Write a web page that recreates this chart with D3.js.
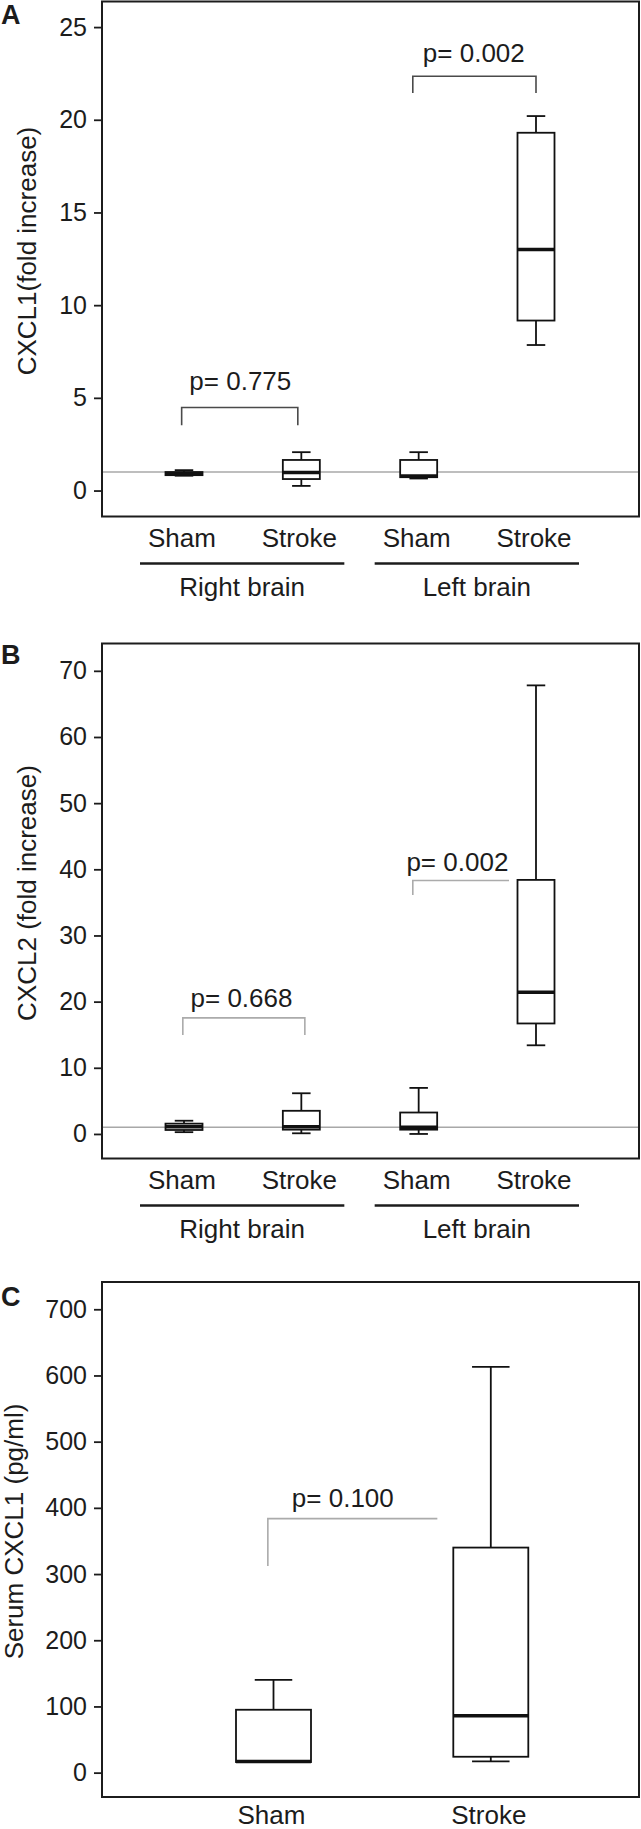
<!DOCTYPE html>
<html>
<head>
<meta charset="utf-8">
<script src="https://d3js.org/d3.v7.min.js"></script>
<style>
  body { margin: 0; background: #fff; }
  svg text { font-family: "Liberation Sans", Arial, Helvetica, sans-serif; fill: #1c1c1c; }
</style>
</head>
<body>
<svg id="fig" width="641" height="1829"></svg>
<script>
// categories
var brainGroups = ["Sham", "Stroke", "Sham", "Stroke"];
var brainSides = ["Right brain", "Left brain"];
var serumGroups = ["Sham", "Stroke"];

// box summaries: [min, q1, median, q3, max]
var cxcl1Brain = [
  [0.80, 0.83, 0.90, 1.00, 1.10],
  [0.25, 0.62, 0.97, 1.65, 2.07],
  [0.65, 0.72, 0.78, 1.65, 2.07],
  [7.85, 9.17, 13.0, 19.3, 20.2]
];
var cxcl2Brain = [
  [0.27, 0.60, 1.08, 1.56, 2.0],
  [0.10, 0.65, 1.08, 3.50, 6.15],
  [0.00, 0.65, 1.03, 3.24, 6.96],
  [13.4, 16.7, 21.4, 38.4, 67.8]
];
var serumCxcl1 = [
  [16, 16, 17, 95, 140],
  [17, 24, 86, 340, 613]
];

// tick labels
var ticksA = [0, 5, 10, 15, 20, 25];
var ticksB = [0, 10, 20, 30, 40, 50, 60, 70];
var ticksC = [0, 100, 200, 300, 400, 500, 600, 700];

// p-value brackets (x in category index units, y in data units)
var pA = [
  {x0: -0.02, x1: 0.97, bar: 4.48, leg: 3.52, right: true, tx: 0.48, ty: 5.44, label: "p= 0.775"},
  {x0: 1.95, x1: 3.0, bar: 22.35, leg: 21.44, right: true, tx: 2.47, ty: 23.14, label: "p= 0.002"}
];
var pB = [
  {x0: -0.01, x1: 1.03, bar: 17.54, leg: 14.95, right: true, tx: 0.49, ty: 19.2, label: "p= 0.668"},
  {x0: 1.95, x1: 2.77, bar: 38.3, leg: 36.1, right: false, tx: 2.33, ty: 39.8, label: "p= 0.002"}
];
var pC = [
  {x0: -0.026, x1: 0.754, bar: 383.7, leg: 312, right: false, tx: 0.319, ty: 402, label: "p= 0.100"}
];

var svg = d3.select("#fig");
var left = 102, right = 639, plotH = 515;

function panel(cfg) {
  var g = svg.append("g");
  var top = cfg.top, bottom = top + plotH;

  var y = d3.scaleLinear().domain(cfg.yDomain).range([bottom, top]);
  var x = d3.scaleLinear().domain([0, cfg.cats.length - 1]).range(cfg.xRange);

  // axis
  var ax = g.append("g")
    .attr("transform", "translate(" + left + ",0)")
    .call(d3.axisLeft(y).tickValues(cfg.ticks).tickSize(8).tickPadding(7).tickFormat(d3.format("d")));
  ax.select(".domain").remove();
  ax.selectAll(".tick line").attr("stroke", "#1c1c1c").attr("stroke-width", 1.8);
  ax.selectAll(".tick text").style("font-size", "25px").attr("fill", "#1c1c1c");

  // reference line
  if (cfg.refLine != null) {
    g.append("line")
      .attr("x1", left).attr("x2", right)
      .attr("y1", y(cfg.refLine)).attr("y2", y(cfg.refLine))
      .attr("stroke", "#a8a8a8").attr("stroke-width", 1.5);
  }

  // boxes
  var bw = cfg.boxW;
  var box = g.selectAll(".box").data(cfg.stats).enter().append("g").attr("class", "box");
  box.append("line")
    .attr("x1", function(d, i) { return x(i); }).attr("x2", function(d, i) { return x(i); })
    .attr("y1", function(d) { return y(d[3]); }).attr("y2", function(d) { return y(d[4]); })
    .attr("stroke", "#111").attr("stroke-width", 1.8);
  box.append("line")
    .attr("x1", function(d, i) { return x(i); }).attr("x2", function(d, i) { return x(i); })
    .attr("y1", function(d) { return y(d[1]); }).attr("y2", function(d) { return y(d[0]); })
    .attr("stroke", "#111").attr("stroke-width", 1.8);
  [0, 4].forEach(function(k) {
    box.append("line")
      .attr("x1", function(d, i) { return x(i) - bw / 4; }).attr("x2", function(d, i) { return x(i) + bw / 4; })
      .attr("y1", function(d) { return y(d[k]); }).attr("y2", function(d) { return y(d[k]); })
      .attr("stroke", "#111").attr("stroke-width", 1.8);
  });
  box.append("rect")
    .attr("x", function(d, i) { return x(i) - bw / 2; })
    .attr("width", bw)
    .attr("y", function(d) { return y(d[3]); })
    .attr("height", function(d) { return y(d[1]) - y(d[3]); })
    .attr("fill", "#fff").attr("stroke", "#111").attr("stroke-width", 1.8);
  box.append("line")
    .attr("x1", function(d, i) { return x(i) - bw / 2; }).attr("x2", function(d, i) { return x(i) + bw / 2; })
    .attr("y1", function(d) { return y(d[2]); }).attr("y2", function(d) { return y(d[2]); })
    .attr("stroke", "#111").attr("stroke-width", 3.5);

  // brackets
  cfg.brackets.forEach(function(b) {
    var p = d3.path();
    p.moveTo(x(b.x0), y(b.leg));
    p.lineTo(x(b.x0), y(b.bar));
    p.lineTo(x(b.x1), y(b.bar));
    if (b.right) p.lineTo(x(b.x1), y(b.leg));
    g.append("path").attr("d", p.toString()).attr("fill", "none")
      .attr("stroke", cfg.bracketColor).attr("stroke-width", 1.6);
    g.append("text").attr("x", x(b.tx)).attr("y", y(b.ty))
      .attr("text-anchor", "middle").style("font-size", "26px").text(b.label);
  });

  // frame
  g.append("rect").attr("x", left).attr("y", top).attr("width", right - left).attr("height", plotH)
    .attr("fill", "none").attr("stroke", "#1c1c1c").attr("stroke-width", 2);

  // category labels
  g.selectAll(".cat").data(cfg.cats).enter().append("text")
    .attr("x", function(d, i) { return x(i) - 2; })
    .attr("y", bottom + cfg.catDy)
    .attr("text-anchor", "middle").style("font-size", "26px").text(function(d) { return d; });

  // group underlines
  if (cfg.sides) {
    cfg.sides.forEach(function(s, j) {
      var a = x(2 * j) - 44, c = x(2 * j + 1) + 43;
      g.append("line").attr("x1", a).attr("x2", c)
        .attr("y1", bottom + 47).attr("y2", bottom + 47)
        .attr("stroke", "#1c1c1c").attr("stroke-width", 2.4);
      g.append("text").attr("x", (a + c) / 2).attr("y", bottom + 79)
        .attr("text-anchor", "middle").style("font-size", "26px").text(s);
    });
  }

  // y title
  g.append("text")
    .attr("transform", "translate(" + cfg.titleX + "," + (top + plotH / 2 - 8) + ") rotate(-90)")
    .attr("text-anchor", "middle").style("font-size", "26px").text(cfg.title);

  // panel letter
  g.append("text").attr("x", 1).attr("y", cfg.letterY)
    .style("font-size", "27px").style("font-weight", "bold").attr("fill", "#000").text(cfg.letter);
}

panel({
  top: 1.5, letter: "A", letterY: 24, title: "CXCL1(fold increase)", titleX: 36,
  cats: brainGroups, sides: brainSides, stats: cxcl1Brain, catDy: 30,
  yDomain: [-1.4, 26.38], ticks: ticksA, refLine: 1,
  xRange: [184, 536], boxW: 37, brackets: pA, bracketColor: "#4a4a4a"
});

panel({
  top: 643.5, letter: "B", letterY: 664, title: "CXCL2 (fold increase)", titleX: 36,
  cats: brainGroups, sides: brainSides, stats: cxcl2Brain, catDy: 30,
  yDomain: [-3.71, 74.13], ticks: ticksB, refLine: 1,
  xRange: [184, 536], boxW: 37, brackets: pB, bracketColor: "#ababab"
});

panel({
  top: 1282, letter: "C", letterY: 1306, title: "Serum CXCL1 (pg/ml)", titleX: 23,
  cats: serumGroups, sides: null, stats: serumCxcl1, catDy: 27,
  yDomain: [-36.8, 741.2], ticks: ticksC, refLine: null,
  xRange: [273.5, 490.8], boxW: 75, brackets: pC, bracketColor: "#ababab"
});
</script>
</body>
</html>
